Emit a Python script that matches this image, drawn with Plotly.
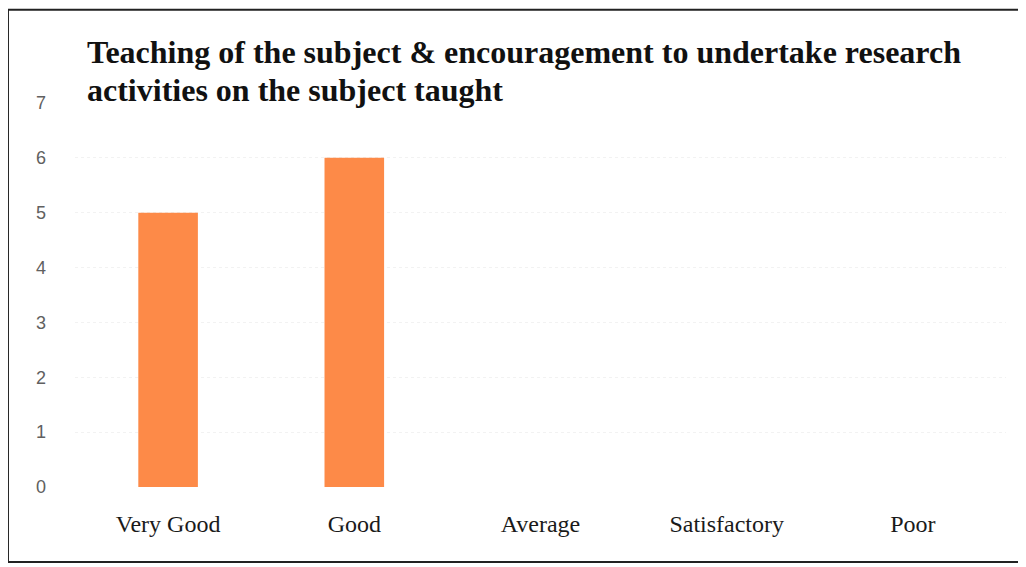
import plotly.graph_objects as go

categories = ["Very Good", "Good", "Average", "Satisfactory", "Poor"]
values = [5, 6, 0, 0, 0]
y_ticks = [0, 1, 2, 3, 4, 5, 6, 7]
title_lines = ["Teaching of the subject &amp; encouragement to undertake research",
               "activities on the subject taught"]

fig = go.Figure(go.Bar(
    x=categories, y=values,
    marker=dict(color="#FD8A48", line=dict(width=0)),
    width=0.32,
))

title_font = dict(family="Liberation Serif", size=32, color="#111111", weight="bold")

fig.update_layout(
    width=1026, height=567,
    margin=dict(l=67, r=28, t=95, b=88),
    paper_bgcolor="white", plot_bgcolor="white",
    showlegend=False,
    xaxis=dict(
        showgrid=False, zeroline=False, showline=False, ticks="",
        tickfont=dict(family="Liberation Serif", size=24, color="#1a1a1a"),
        ticklabelstandoff=20,
    ),
    yaxis=dict(
        range=[0, 7], tickvals=y_ticks,
        showgrid=True, gridcolor="#F2F2F2", gridwidth=1, griddash="dot",
        zeroline=False, showline=False, ticks="",
        tickfont=dict(family="Liberation Sans", size=18, color="#606060"),
        ticklabelstandoff=28,
    ),
    annotations=[
        dict(text=title_lines[0], xref="paper", yref="paper",
             x=0.011, y=1.133, xanchor="left", yanchor="middle", align="left",
             showarrow=False, font=title_font),
        dict(text=title_lines[1], xref="paper", yref="paper",
             x=0.011, y=1.034, xanchor="left", yanchor="middle", align="left",
             showarrow=False, font=title_font),
    ],
    shapes=[dict(
        type="rect", xref="paper", yref="paper",
        x0=-0.072, x1=1.07, y0=-0.195, y1=1.243,
        line=dict(color="#222222", width=2), fillcolor="rgba(0,0,0,0)", layer="above",
    )],
)

fig.write_html("out.html")
